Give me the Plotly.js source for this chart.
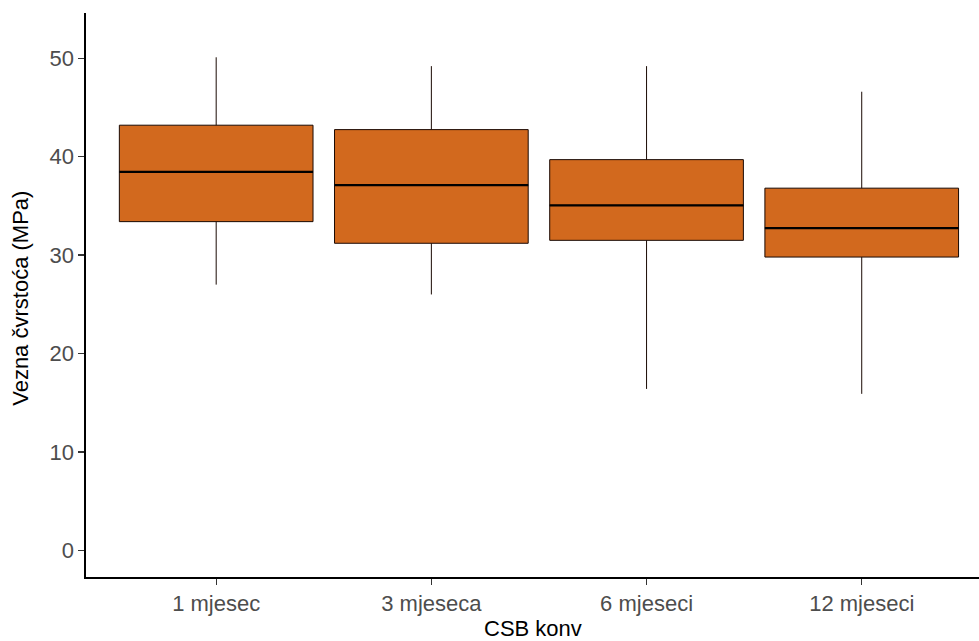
<!DOCTYPE html>
<html>
<head>
<meta charset="utf-8">
<script src="https://cdn.plot.ly/plotly-3.0.1.min.js"></script>
<style>html,body{margin:0;padding:0;background:#fff;overflow:hidden}#chart{width:979px;height:641px}</style>
</head>
<body>
<div id="chart"></div>
<script>
const categories = ["1 mjesec", "3 mjeseca", "6 mjeseci", "12 mjeseci"];
const lowerWhisker = [27.0, 26.0, 16.4, 15.9];
const q1Values = [33.4, 31.2, 31.5, 29.8];
const medianValues = [38.45, 37.1, 35.05, 32.75];
const q3Values = [43.2, 42.75, 39.7, 36.8];
const upperWhisker = [50.1, 49.2, 49.2, 46.6];
const yTicks = [0, 10, 20, 30, 40, 50];

const trace = {
  type: 'box',
  x: categories,
  q1: q1Values,
  median: medianValues,
  q3: q3Values,
  lowerfence: lowerWhisker,
  upperfence: upperWhisker,
  fillcolor: '#D2691E',
  line: {color: '#1a0a04', width: 1},
  whiskerwidth: 0,
  width: 0.9,
  boxpoints: false,
  hoverinfo: 'skip',
  showlegend: false
};

const medianShapes = medianValues.map((m, i) => ({
  type: 'line', xref: 'x', yref: 'y',
  x0: i - 0.45, x1: i + 0.45, y0: m, y1: m,
  line: {color: '#000', width: 2.2}
}));

const font = "'Liberation Sans', Arial, sans-serif";
const layout = {
  width: 979, height: 641,
  margin: {l: 86, r: 0, t: 13, b: 64},
  paper_bgcolor: '#fff', plot_bgcolor: '#fff',
  font: {family: font},
  xaxis: {
    type: 'category',
    range: [-0.605, 3.545],
    showline: true, linecolor: '#000', linewidth: 1.6,
    ticks: 'outside', ticklen: 6, tickcolor: '#333', tickwidth: 1.3,
    tickfont: {family: font, size: 22, color: '#4D4D4D'},
    showgrid: false, zeroline: false
  },
  yaxis: {
    range: [-2.71, 54.6],
    tickvals: yTicks,
    showline: true, linecolor: '#000', linewidth: 1.6,
    ticks: 'outside', ticklen: 6, tickcolor: '#333', tickwidth: 1.3,
    tickfont: {family: font, size: 22, color: '#4D4D4D'},
    showgrid: false, zeroline: false
  },
  shapes: medianShapes,
  annotations: [
    {text: 'CSB konv', xref: 'paper', yref: 'paper', x: 0.5, y: -0.0656,
     xanchor: 'center', yanchor: 'top', showarrow: false,
     font: {family: font, size: 22, color: '#000'}},
    {text: 'Vezna čvrstoća (MPa)', xref: 'paper', yref: 'paper', x: -0.0728, y: 0.495,
     xanchor: 'center', yanchor: 'middle', textangle: -90, showarrow: false,
     font: {family: font, size: 22, color: '#000'}}
  ]
};

Plotly.newPlot('chart', [trace], layout, {staticPlot: true, displayModeBar: false});
</script>
</body>
</html>
